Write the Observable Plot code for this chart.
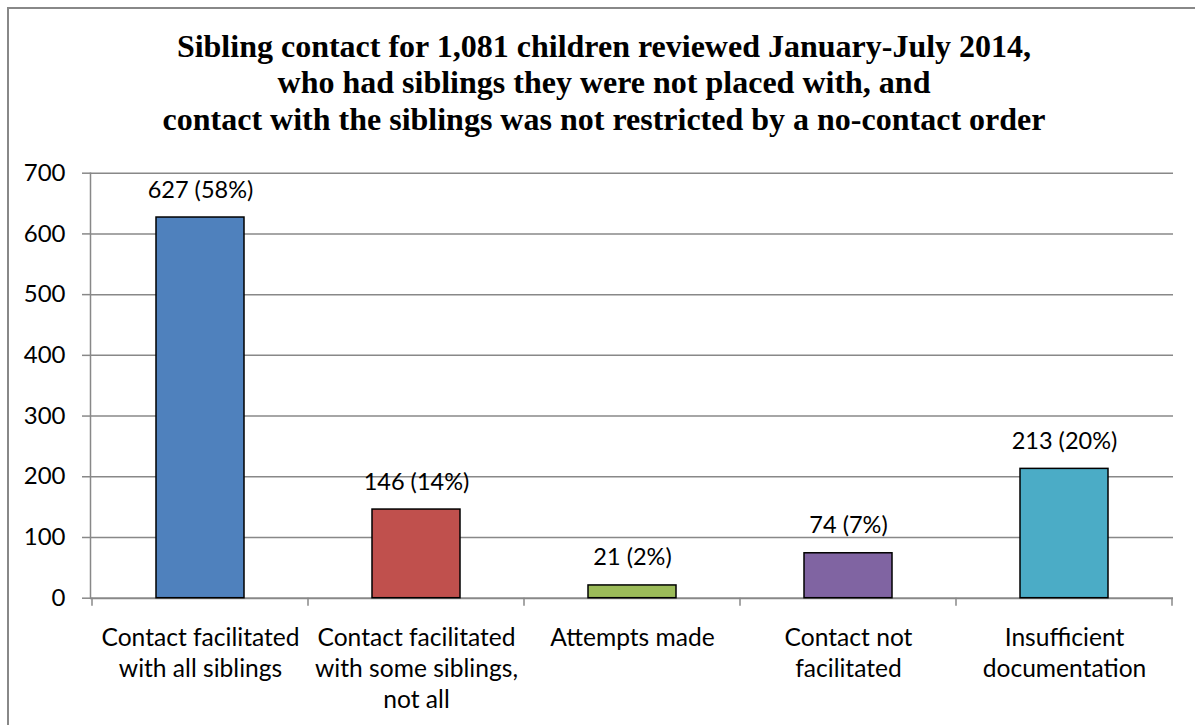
<!DOCTYPE html>
<html><head><meta charset="utf-8">
<script src="https://cdn.jsdelivr.net/npm/d3@7"></script>
<script src="https://cdn.jsdelivr.net/npm/@observablehq/plot@0.6"></script>
<style>
html,body{margin:0;padding:0;background:#fff;width:1195px;height:725px;overflow:hidden;position:relative;}
#frame{position:absolute;left:7px;top:7px;width:1300px;height:800px;border-left:2px solid #888;border-top:2px solid #888;box-sizing:border-box;}
#title{position:absolute;left:0;top:27.9px;width:1208px;text-align:center;font-family:"Liberation Serif","Times New Roman",serif;font-weight:bold;font-size:32px;line-height:36.5px;color:#000;white-space:nowrap;}
#chart{position:absolute;left:0;top:150px;}
</style>
</head><body>
<div id="frame"></div>
<div id="title"></div>
<div id="chart"></div>
<script>
const titleLines = [
  "Sibling contact for 1,081 children reviewed January-July 2014,",
  "who had siblings they were not placed with, and",
  "contact with the siblings was not restricted by a no-contact order"
];
const categories = [
  "Contact facilitated\nwith all siblings",
  "Contact facilitated\nwith some siblings,\nnot all",
  "Attempts made",
  "Contact not\nfacilitated",
  "Insufficient\ndocumentation"
];
const counts = [627, 146, 21, 74, 213];
const percents = ["58%", "14%", "2%", "7%", "20%"];
const colors = ["#4F81BD", "#C0504D", "#9BBB59", "#8064A2", "#4BACC6"];
const yTicks = [0, 100, 200, 300, 400, 500, 600, 700];

const titleEl = document.getElementById("title");
titleLines.forEach((t, i) => {
  if (i) titleEl.appendChild(document.createElement("br"));
  titleEl.appendChild(document.createTextNode(t));
});

const data = categories.map((c, i) => ({
  category: c,
  count: counts[i],
  label: `${counts[i]} (${percents[i]})`
}));

function bandTicks(index, scales) {
  const x = scales.x, y = scales.y;
  const xs = categories.map(c => x(c));
  const step = xs[1] - xs[0];
  xs.push(xs[xs.length - 1] + step);
  const y0 = y(0);
  const g = d3.create("svg:g").attr("stroke", "#888").attr("stroke-width", 1.5);
  for (const v of xs) g.append("line").attr("x1", v).attr("x2", v).attr("y1", y0).attr("y2", y0 + 8);
  return g.node();
}

const chart = Plot.plot({
  width: 1195,
  height: 575,
  marginTop: 22.7,
  marginBottom: 127.3,
  marginLeft: 90,
  marginRight: 22,
  style: {fontFamily: "Lato, sans-serif", fontSize: "24px", color: "#000", background: "transparent", overflow: "visible"},
  x: {domain: categories, padding: 0, axis: null},
  y: {domain: [0, 700], axis: null},
  color: {domain: categories, range: colors},
  marks: [
    Plot.ruleY(yTicks.filter(v => v > 0), {stroke: "#888", strokeWidth: 1.5}),
    Plot.axisY({ticks: yTicks, tickSize: 8, tickPadding: 17, stroke: "#888", strokeWidth: 1.5, fill: "#000", fontSize: 24, tickFormat: d => String(d), label: null}),
    Plot.frame({anchor: "left", stroke: "#888", strokeWidth: 1.5}),
    Plot.ruleY([0], {stroke: "#888", strokeWidth: 2}),
    bandTicks,
    Plot.barY(data, {x: "category", y: "count", fill: "category", stroke: "#000", strokeWidth: 1.5, insetLeft: 64, insetRight: 64}),
    Plot.text(data, {x: "category", y: "count", text: "label", lineAnchor: "bottom", dy: -20, fontSize: 23.5, fill: "#000"}),
    Plot.text(data, {x: "category", y: () => 0, text: "category", lineAnchor: "top", dy: 26, lineHeight: 1.25, fontSize: 24.6, fill: "#000"})
  ]
});
document.getElementById("chart").appendChild(chart);
</script>
</body></html>
